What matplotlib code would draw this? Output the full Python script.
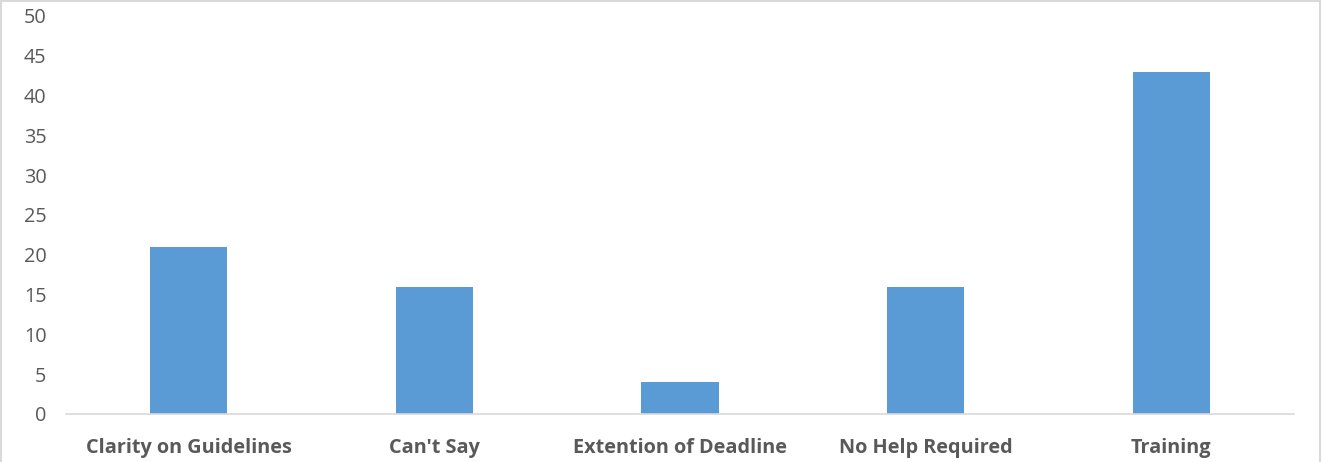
import numpy as np
import matplotlib.pyplot as plt
from matplotlib.patches import Rectangle

categories = ['Clarity on Guidelines', "Can't Say", 'Extention of Deadline',
              'No Help Required', 'Training']
counts = [21, 16, 4, 16, 43]

plt.rcParams['font.family'] = ['Open Sans', 'DejaVu Sans']

fig = plt.figure(figsize=(13.23, 4.62), dpi=100)
ax = fig.add_axes([0.0499, 0.1039, 0.9282, 0.8615])

x = np.arange(len(categories))
ax.bar(x, counts, width=0.314, color='#5B9BD5', zorder=2)

ax.set_xlim(-0.5, len(categories) - 0.5)
ax.set_ylim(0, 50)
ax.set_yticks(np.arange(0, 51, 5))
ax.set_xticks(x)
ax.set_xticklabels(categories, fontweight='bold', fontsize=14.3, color='#595959')
ax.tick_params(axis='y', length=0, labelsize=14.3, labelcolor='#595959', pad=14)
ax.tick_params(axis='x', length=0, pad=17)

for side in ['left', 'right', 'top']:
    ax.spines[side].set_visible(False)
ax.spines['bottom'].set_color('#D9D9D9')
ax.spines['bottom'].set_linewidth(1.2)

# light frame around the whole chart area
fig.patches.append(Rectangle((0.001, -0.01), 0.997, 1.007, transform=fig.transFigure,
                             fill=False, edgecolor='#D9D9D9', linewidth=1.5))

fig.savefig('out.png', dpi=100)
